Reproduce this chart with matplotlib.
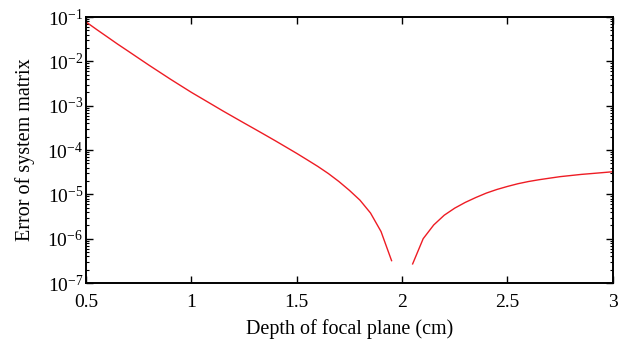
import matplotlib
matplotlib.use("Agg")
import matplotlib.pyplot as plt
from matplotlib.ticker import LogLocator, NullFormatter

# Depth of focal plane (cm) and error values, two branches around the dip at 2 cm
depth_left = [0.50, 0.55, 0.60, 0.65, 0.70, 0.75, 0.80, 0.85, 0.90, 0.95,
              1.00, 1.05, 1.10, 1.15, 1.20, 1.25, 1.30, 1.35, 1.40, 1.45,
              1.50, 1.55, 1.60, 1.65, 1.70, 1.75, 1.80, 1.85, 1.90, 1.95]
error_left = [7.76e-2, 5.25e-2, 3.59e-2, 2.45e-2, 1.70e-2, 1.175e-2, 8.13e-3, 5.69e-3, 3.98e-3, 2.82e-3,
              2.0e-3, 1.45e-3, 1.05e-3, 7.6e-4, 5.56e-4, 4.07e-4, 2.99e-4, 2.19e-4, 1.60e-4, 1.16e-4,
              8.4e-5, 6.0e-5, 4.27e-5, 2.95e-5, 1.95e-5, 1.23e-5, 7.4e-6, 3.8e-6, 1.45e-6, 3.2e-7]

depth_right = [2.05, 2.10, 2.15, 2.20, 2.25, 2.30, 2.35, 2.40, 2.45, 2.50,
               2.55, 2.60, 2.65, 2.70, 2.75, 2.80, 2.85, 2.90, 2.95, 3.00]
error_right = [2.7e-7, 1.0e-6, 2.04e-6, 3.39e-6, 4.9e-6, 6.6e-6, 8.5e-6, 1.07e-5, 1.29e-5, 1.51e-5,
               1.74e-5, 1.95e-5, 2.14e-5, 2.32e-5, 2.51e-5, 2.66e-5, 2.82e-5, 2.95e-5, 3.09e-5, 3.24e-5]

x_ticks = [0.5, 1, 1.5, 2, 2.5, 3]
x_tick_labels = ["0.5", "1", "1.5", "2", "2.5", "3"]

plt.rcParams["font.family"] = ["Liberation Serif", "DejaVu Serif"]
plt.rcParams["mathtext.fontset"] = "custom"
plt.rcParams["mathtext.rm"] = "Liberation Serif"
plt.rcParams["mathtext.it"] = "Liberation Serif:italic"

fig = plt.figure(figsize=(6.19, 3.41), dpi=100)
ax = fig.add_axes([0.139, 0.170, 0.851, 0.780])

ax.plot(depth_left, error_left, color="#ee1c24", lw=1.0)
ax.plot(depth_right, error_right, color="#ee1c24", lw=1.0)

ax.set_yscale("log")
ax.set_xlim(0.5, 3)
ax.set_ylim(1e-7, 1e-1)
ax.set_xticks(x_ticks)
ax.set_xticklabels(x_tick_labels)
ax.yaxis.set_major_locator(LogLocator(base=10, numticks=10))
ax.yaxis.set_minor_locator(LogLocator(base=10, subs=range(2, 10), numticks=10))
ax.yaxis.set_minor_formatter(NullFormatter())

ax.tick_params(which="both", direction="in", top=True, right=True, labelsize=14)
ax.tick_params(axis="x", pad=8)
ax.tick_params(axis="y", pad=2)
ax.tick_params(which="major", length=5, width=1)
ax.tick_params(which="minor", length=2.5, width=0.8)
for s in ax.spines.values():
    s.set_linewidth(1.4)

ax.set_xlabel("Depth of focal plane (cm)", fontsize=14.5, labelpad=6)
ax.set_ylabel("Error of system matrix", fontsize=14.5, labelpad=9)

fig.savefig("out.png", dpi=100)
